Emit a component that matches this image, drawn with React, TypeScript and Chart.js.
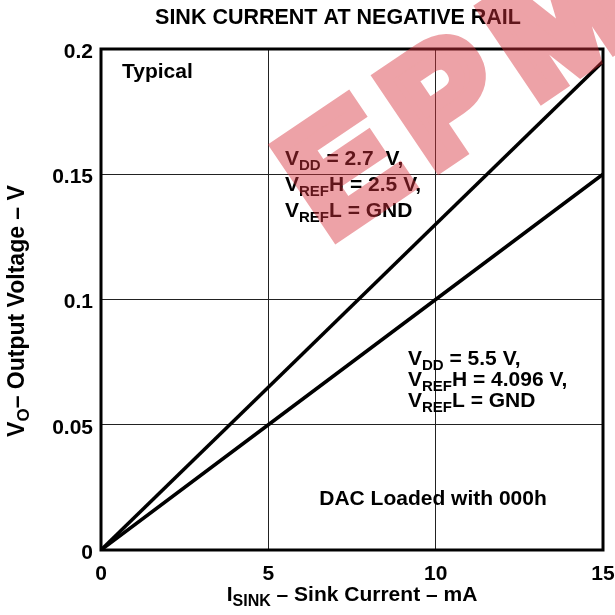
import React, { useEffect, useRef } from "react";
import { Chart, registerables } from "chart.js";

Chart.register(...registerables);

// ---- data ----
const sinkCurrentMA = [0, 5, 10, 15];
const vout27 = [0, 0.065, 0.13, 0.195]; // VDD = 2.7 V
const vout55 = [0, 0.05, 0.1, 0.15]; // VDD = 5.5 V
const xTickValues = [0, 5, 10, 15];
const yTickValues = [0, 0.05, 0.1, 0.15, 0.2];

const titleText = "SINK CURRENT AT NEGATIVE RAIL";
type Part = { t: string; sub?: boolean };
const xTitleParts: Part[] = [{ t: "I" }, { t: "SINK", sub: true }, { t: " \u2013 Sink Current \u2013 mA" }];
const yTitleParts: Part[] = [{ t: "V" }, { t: "O", sub: true }, { t: "\u2013 Output Voltage \u2013 V" }];
const block27: Part[][] = [
  [{ t: "V" }, { t: "DD", sub: true }, { t: " = 2.7  V," }],
  [{ t: "V" }, { t: "REF", sub: true }, { t: "H = 2.5 V," }],
  [{ t: "V" }, { t: "REF", sub: true }, { t: "L = GND" }],
];
const block55: Part[][] = [
  [{ t: "V" }, { t: "DD", sub: true }, { t: " = 5.5 V," }],
  [{ t: "V" }, { t: "REF", sub: true }, { t: "H = 4.096 V," }],
  [{ t: "V" }, { t: "REF", sub: true }, { t: "L = GND" }],
];
const typicalText = "Typical";
const dacText = "DAC Loaded with 000h";
const watermarkLetters = ["E", "P", "M"];

const FAMILY = '"Liberation Sans", Arial, Helvetica, sans-serif';

function richWidth(ctx: CanvasRenderingContext2D, parts: Part[], main: number, sub: number) {
  let total = 0;
  for (const p of parts) {
    ctx.font = `bold ${p.sub ? sub : main}px ${FAMILY}`;
    total += ctx.measureText(p.t).width;
  }
  return total;
}

function drawRich(
  ctx: CanvasRenderingContext2D,
  parts: Part[],
  x: number,
  y: number,
  align: "left" | "center",
  main = 21,
  sub = 15,
  drop = 5
) {
  const total = richWidth(ctx, parts, main, sub);
  let cx = align === "center" ? x - total / 2 : x;
  ctx.textAlign = "left";
  ctx.textBaseline = "alphabetic";
  for (const p of parts) {
    ctx.font = `bold ${p.sub ? sub : main}px ${FAMILY}`;
    ctx.fillText(p.t, cx, p.sub ? y + drop : y);
    cx += ctx.measureText(p.t).width;
  }
}

const decorPlugin = {
  id: "decor",
  afterDatasetsDraw(chart: any) {
    const { ctx, chartArea } = chart;
    const { left, top, right, bottom } = chartArea;
    ctx.save();
    // frame
    ctx.strokeStyle = "#000";
    ctx.lineWidth = 3;
    ctx.strokeRect(left, top, right - left, bottom - top);

    ctx.fillStyle = "#000";
    // title
    ctx.font = `bold 21.5px ${FAMILY}`;
    ctx.textAlign = "center";
    ctx.textBaseline = "alphabetic";
    ctx.fillText(titleText, 338, 24);

    // x axis title
    drawRich(ctx, xTitleParts, 352, 601, "center", 21, 16, 5);

    // y axis title (rotated)
    ctx.save();
    ctx.translate(24, 311);
    ctx.rotate(-Math.PI / 2);
    drawRich(ctx, yTitleParts, 0, 0, "center", 23, 17, 5);
    ctx.restore();

    // annotations
    ctx.font = `bold 21px ${FAMILY}`;
    ctx.textAlign = "left";
    ctx.fillText(typicalText, 122, 78);
    block27.forEach((line, i) => drawRich(ctx, line, 285, 165 + i * 26, "left"));
    block55.forEach((line, i) => drawRich(ctx, line, 408, 365 + i * 21, "left"));
    ctx.font = `bold 21px ${FAMILY}`;
    ctx.textAlign = "center";
    ctx.fillText(dacText, 433, 505);
    ctx.restore();
  },
  afterDraw(chart: any) {
    const { ctx, width, height } = chart;
    const off = document.createElement("canvas");
    off.width = width;
    off.height = height;
    const o = off.getContext("2d")!;
    o.translate(329, 239);
    o.rotate((-34 * Math.PI) / 180);
    o.fillStyle = "rgb(215, 50, 60)";
    o.strokeStyle = "rgb(215, 50, 60)";
    o.lineWidth = 16;
    o.lineJoin = "miter";
    o.font = `bold 152px ${FAMILY}`;
    o.textAlign = "left";
    o.textBaseline = "alphabetic";
    watermarkLetters.forEach((ch, i) => {
      const ax = i * 124;
      o.fillText(ch, ax, 0);
      o.strokeText(ch, ax, 0);
    });
    ctx.save();
    ctx.globalAlpha = 0.45;
    ctx.drawImage(off, 0, 0);
    ctx.restore();
  },
};

export default function App() {
  const ref = useRef<HTMLCanvasElement>(null);
  useEffect(() => {
    const tickFont = { family: FAMILY, size: 21, weight: "bold" as const };
    const chart = new Chart(ref.current!, {
      type: "line",
      data: {
        datasets: [
          {
            label: "VDD = 2.7 V",
            data: sinkCurrentMA.map((x, i) => ({ x, y: vout27[i] })),
            borderColor: "#000",
            borderWidth: 3.5,
            pointRadius: 0,
            tension: 0,
          },
          {
            label: "VDD = 5.5 V",
            data: sinkCurrentMA.map((x, i) => ({ x, y: vout55[i] })),
            borderColor: "#000",
            borderWidth: 3.5,
            pointRadius: 0,
            tension: 0,
          },
        ],
      },
      options: {
        animation: false,
        responsive: false,
        maintainAspectRatio: false,
        layout: { padding: { top: 49, right: 12, left: 0, bottom: 0 } },
        plugins: { legend: { display: false }, tooltip: { enabled: false }, title: { display: false } },
        scales: {
          x: {
            type: "linear",
            min: 0,
            max: 15,
            afterBuildTicks: (s: any) => {
              s.ticks = xTickValues.map((v) => ({ value: v }));
            },
            afterFit: (s: any) => {
              s.height = 65;
              s.paddingRight = 0;
              s.paddingLeft = 0;
            },
            grid: { color: "#222", lineWidth: 1, drawTicks: false },
            border: { display: false },
            ticks: { font: tickFont, color: "#000", padding: 12, maxRotation: 0 },
          },
          y: {
            type: "linear",
            min: 0,
            max: 0.2,
            afterBuildTicks: (s: any) => {
              s.ticks = yTickValues.map((v) => ({ value: v }));
            },
            afterFit: (s: any) => {
              s.width = 101;
              s.paddingTop = 0;
              s.paddingBottom = 0;
            },
            grid: { color: "#222", lineWidth: 1, drawTicks: false },
            border: { display: false },
            ticks: {
              font: tickFont,
              color: "#000",
              padding: 8,
              labelOffset: 3,
              callback: (v: any) => String(+Number(v).toFixed(2)),
            },
          },
        },
      },
      plugins: [decorPlugin],
    });
    return () => chart.destroy();
  }, []);
  return (
    <div style={{ position: "absolute", left: 0, top: 0, width: 615, height: 615, background: "#fff" }}>
      <canvas ref={ref} width={615} height={615} style={{ display: "block" }} />
    </div>
  );
}
